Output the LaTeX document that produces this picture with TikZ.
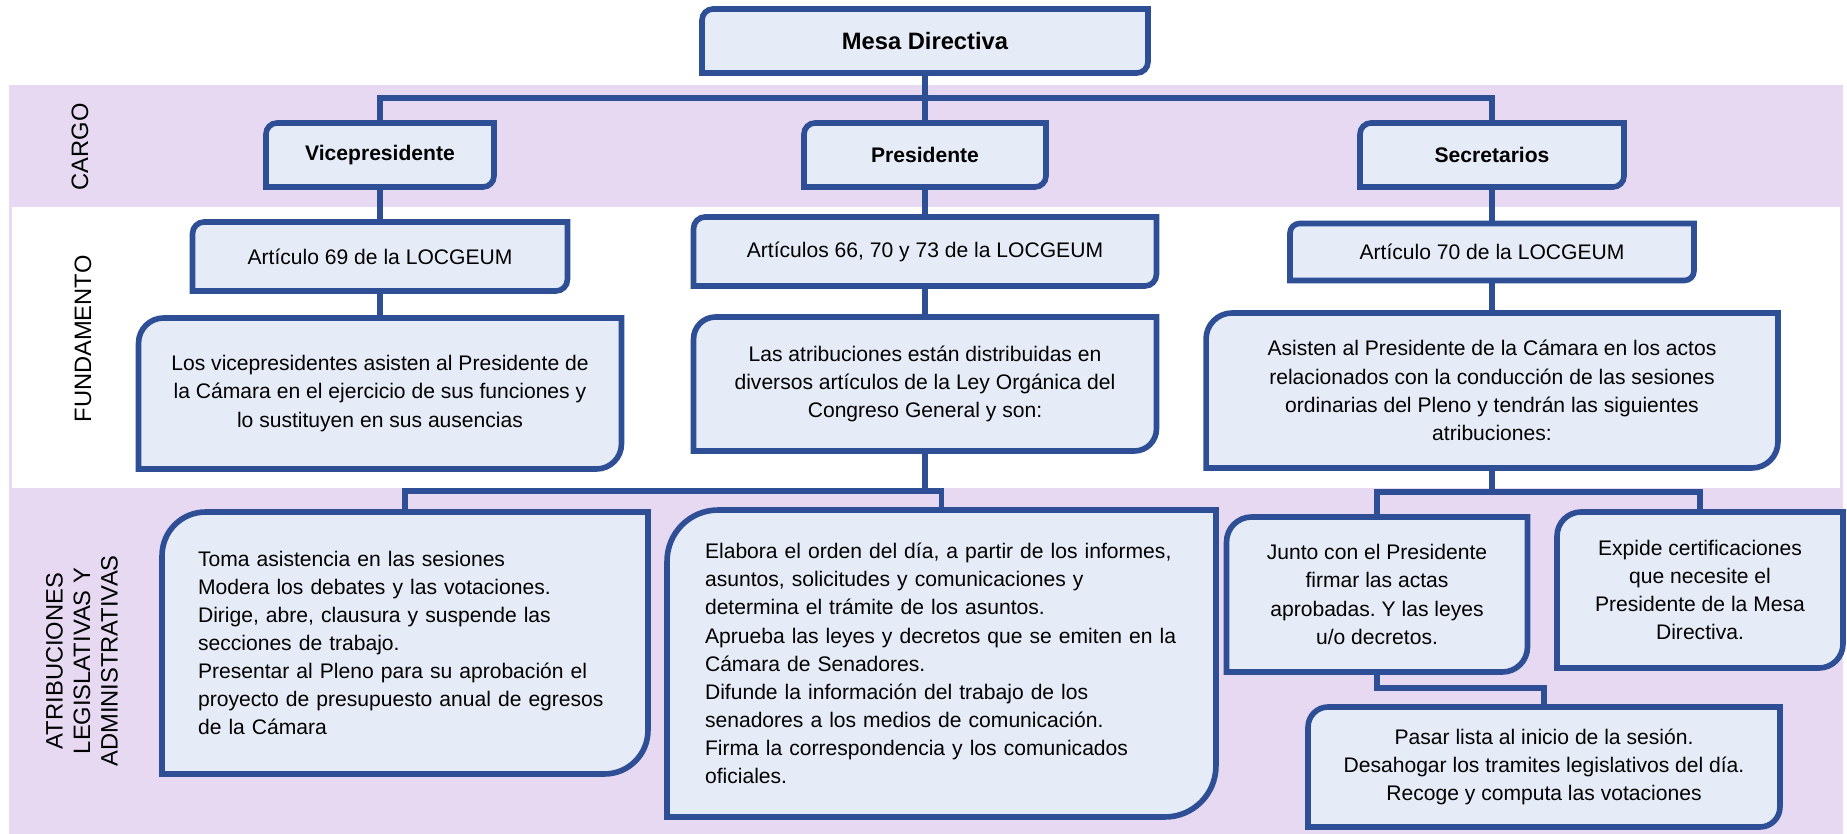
\documentclass[tikz,border=0pt]{standalone}
\usepackage{fontspec}
\setmainfont{Liberation Sans}
\frenchspacing
\usetikzlibrary{backgrounds}
\definecolor{deepblue}{RGB}{46,79,150}
\definecolor{paleblue}{RGB}{230,236,247}
\definecolor{lilac}{RGB}{230,217,241}
\tikzset{%
    entity/.style={%
        inner sep=0pt, outer sep=0pt, align=center, font=\fontsize{12}{16}\selectfont
    },
    role/.style={%
        entity, font=\bfseries\fontsize{12}{16}\selectfont
    },
    head/.style={%
        entity, font=\bfseries\fontsize{13.5}{16}\selectfont
    },
    duties/.style={%
        entity, align=left
    },
    bandlabel/.style={%
        rotate=90, align=center, inner sep=0pt, font=\fontsize{13.5}{15.7}\selectfont
    },
    link/.style={%
        draw=deepblue, line width=3.2pt
    },
    cardline/.style={%
        draw=deepblue, fill=paleblue, line width=3.2pt
    },
}
\newcommand{\cardshape}[2]{%
  \draw[cardline] ([xshift=#2]#1.north west) -- (#1.north east) -- ([yshift=#2]#1.south east)
    arc[start angle=0, end angle=-90, radius=#2] -- (#1.south west) -- ([yshift=-#2]#1.north west)
    arc[start angle=180, end angle=90, radius=#2] -- cycle;}

\begin{document}
\begin{tikzpicture}[x=0.02cm, y=-0.02cm]
  \useasboundingbox (0,0) rectangle (1847,834);

  \node[bandlabel] (lcargo) at (80,147) {CARGO};
  \node[bandlabel] (lfund) at (83,339) {FUNDAMENTO};
  \node[bandlabel] (latrib) at (82,661) {ATRIBUCIONES\\LEGISLATIVAS Y\\ADMINISTRATIVAS};

  \node[head, minimum width=8.92cm, minimum height=1.28cm] (mesa) at (925,41) {Mesa Directiva};
  \node[role, minimum width=4.56cm, minimum height=1.28cm] (vice) at (380,155) {Vicepresidente};
  \node[role, minimum width=4.84cm, minimum height=1.28cm] (pres) at (925,155) {Presidente};
  \node[role, minimum width=5.28cm, minimum height=1.28cm] (sec) at (1492,155) {Secretarios};

  \node[entity, minimum width=7.5cm, minimum height=1.38cm] (art69) at (380,256.5) {Artículo 69 de la LOCGEUM};
  \node[entity, minimum width=9.26cm, minimum height=1.38cm] (art66) at (925,251.5) {Artículos 66, 70 y 73 de la LOCGEUM};
  \node[entity, minimum width=8.08cm, minimum height=1.14cm] (art70) at (1492,252) {Artículo 70 de la LOCGEUM};

  \node[entity, minimum width=9.66cm, minimum height=3.02cm] (los) at (380,393.5)
    {Los vicepresidentes asisten al Presidente de\\la Cámara en el ejercicio de sus funciones y\\lo sustituyen en sus ausencias};
  \node[entity, minimum width=9.26cm, minimum height=2.68cm] (atr) at (925,384)
    {Las atribuciones están distribuidas en\\diversos artículos de la Ley Orgánica del\\Congreso General y son:};
  \node[entity, minimum width=11.44cm, minimum height=3.1cm] (asis) at (1492,390.5)
    {Asisten al Presidente de la Cámara en los actos\\relacionados con la conducción de las sesiones\\ordinarias del Pleno y tendrán las siguientes\\atribuciones:};

  \node[duties, inner xsep=0.72cm, text width=8.28cm, minimum height=5.24cm] (toma) at (405,643)
    {Toma asistencia en las sesiones\\Modera los debates y las votaciones.\\Dirige, abre, clausura y suspende las\\secciones de trabajo.\\Presentar al Pleno para su aprobación el\\proyecto de presupuesto anual de egresos\\de la Cámara};
  \node[duties, inner xsep=0.76cm, text width=9.46cm, minimum height=6.14cm] (elab) at (941.5,663.5)
    {Elabora el orden del día, a partir de los informes,\\asuntos, solicitudes y comunicaciones y\\determina el trámite de los asuntos.\\Aprueba las leyes y decretos que se emiten en la\\Cámara de Senadores.\\Difunde la información del trabajo de los\\senadores a los medios de comunicación.\\Firma la correspondencia y los comunicados\\oficiales.};
  \node[entity, minimum width=6.02cm, minimum height=3.1cm] (junto) at (1377,594.5)
    {Junto con el Presidente\\firmar las actas\\aprobadas. Y las leyes\\u/o decretos.};
  \node[entity, minimum width=5.72cm, minimum height=3.12cm] (expide) at (1700,590)
    {Expide certificaciones\\que necesite el\\Presidente de la Mesa\\Directiva.};
  \node[entity, minimum width=9.44cm, minimum height=2.4cm] (pasar) at (1544,767)
    {Pasar lista al inicio de la sesión.\\Desahogar los tramites legislativos del día.\\Recoge y computa las votaciones};

  \coordinate (bus1) at (0,98);
  \coordinate (bus2) at (0,491);
  \coordinate (bus3) at (0,492);
  \coordinate (bus4) at (0,688);

  \draw[link] (mesa.south) -- (mesa.south |- bus1);
  \draw[link] (vice.north) |- (sec.north |- bus1) -- (sec.north);
  \draw[link] (pres.north) -- (pres.north |- bus1);
  \draw[link] (vice.south) -- (art69.north);
  \draw[link] (art69.south) -- (los.north);
  \draw[link] (pres.south) -- (art66.north);
  \draw[link] (art66.south) -- (atr.north);
  \draw[link] (sec.south) -- (art70.north);
  \draw[link] (art70.south) -- (asis.north);
  \draw[link] (atr.south) -- (atr.south |- bus2);
  \draw[link] (toma.north) |- (elab.north |- bus2) -- (elab.north);
  \draw[link] (asis.south) -- (asis.south |- bus3);
  \draw[link] (junto.north) |- (expide.north |- bus3) -- (expide.north);
  \draw[link] (junto.south) |- (pasar.north |- bus4) -- (pasar.north);

  \begin{pgfonlayer}{background}
    \fill[white] (0,0) rectangle (1847,834);
    \fill[lilac] (9,85) rectangle (1843,834);
    \fill[white] (12,207) rectangle (1840,488);
    \foreach \n/\r in {mesa/0.22cm, vice/0.22cm, pres/0.22cm, sec/0.22cm,
      art69/0.23cm, art66/0.23cm, art70/0.19cm, los/0.5cm, atr/0.44cm, asis/0.52cm,
      toma/0.87cm, elab/1.02cm, junto/0.5cm, expide/0.48cm, pasar/0.4cm}
      {\cardshape{\n}{\r}}
  \end{pgfonlayer}
\end{tikzpicture}
\end{document}
